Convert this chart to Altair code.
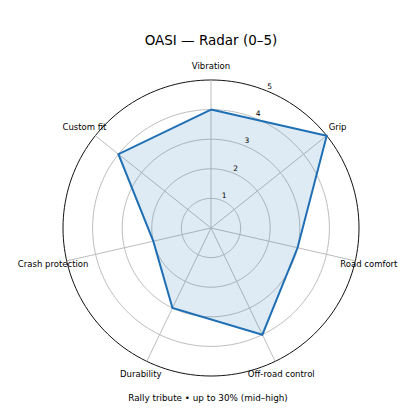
import altair as alt
import pandas as pd
import numpy as np

categories = ["Vibration", "Grip", "Road comfort", "Off-road control",
              "Durability", "Crash protection", "Custom fit"]
values = [4, 5, 3, 4, 3, 2, 4]
ring_levels = [1, 2, 3, 4, 5]
tick_labels = ["1", "2", "3", "4", "5"]
title_text = "OASI — Radar (0–5)"
subtitle_text = "Rally tribute • up to 30% (mid–high)"

N = len(categories)
UNIT = 29.6  # px per unit
W = H = 400
CX, CY = 203, 220

xdom = [-CX / UNIT, (W - CX) / UNIT]
ydom = [-(H - CY) / UNIT, CY / UNIT]
xs = alt.Scale(domain=xdom, nice=False, zero=False)
ys = alt.Scale(domain=ydom, nice=False, zero=False)
noax = None

cat_df = pd.DataFrame({"cat": categories, "value": values, "idx": list(range(N))})
poly_df = pd.concat([cat_df, cat_df.iloc[[0]].assign(idx=N)], ignore_index=True)

ring_rows = []
for r in ring_levels:
    for d in range(0, 361, 2):
        ring_rows.append({"r": r, "deg": d})
ring_df = pd.DataFrame(ring_rows)

tick_df = pd.DataFrame({"r": ring_levels, "label": tick_labels})

X = lambda f: alt.X(f, type="quantitative", scale=xs, axis=noax)
Y = lambda f: alt.Y(f, type="quantitative", scale=ys, axis=noax)

rings = alt.Chart(ring_df).transform_calculate(
    x="datum.r*sin(datum.deg*PI/180)",
    y="datum.r*cos(datum.deg*PI/180)",
).mark_line(strokeWidth=1, clip=False).encode(
    x=X("x:Q"), y=Y("y:Q"), detail="r:N", order="deg:Q",
    color=alt.condition("datum.r == 5", alt.value("#111111"), alt.value("#bdbdbd")),
)

spokes = alt.Chart(cat_df).transform_calculate(
    a="datum.idx*2*PI/%d" % N,
).transform_calculate(
    x0="0", y0="0",
    x1="5*sin(datum.a)", y1="5*cos(datum.a)",
).mark_rule(color="#bdbdbd", strokeWidth=1).encode(
    x=X("x0:Q"), y=Y("y0:Q"), x2="x1:Q", y2="y1:Q",
)

poly = alt.Chart(poly_df).transform_calculate(
    a="datum.idx*2*PI/%d" % N,
).transform_calculate(
    x="datum.value*sin(datum.a)", y="datum.value*cos(datum.a)",
).mark_line(color="#1f6fb4", strokeWidth=2, fill="#1f77b4", fillOpacity=0.15,
            strokeJoin="miter").encode(
    x=X("x:Q"), y=Y("y:Q"), order="idx:Q",
)

ticks = alt.Chart(tick_df).transform_calculate(
    x="(datum.r+0.17)*sin(22.5*PI/180)", y="(datum.r+0.17)*cos(22.5*PI/180)",
).mark_text(font="DejaVu Sans", fontSize=7.5, color="#000000",
            align="center", baseline="middle").encode(
    x=X("x:Q"), y=Y("y:Q"), text="label:N",
)

labels = alt.Chart(cat_df).transform_calculate(
    a="datum.idx*2*PI/%d" % N,
).transform_calculate(
    x="5.47*sin(datum.a)", y="5.47*cos(datum.a)",
).mark_text(font="DejaVu Sans", fontSize=8.5, color="#000000",
            align="center", baseline="middle").encode(
    x=X("x:Q"), y=Y("y:Q"), text="cat:N",
)

title = alt.Chart(pd.DataFrame({"t": [title_text]})).mark_text(
    font="DejaVu Sans", fontSize=13.5, color="#000000", align="center", baseline="middle"
).encode(x=alt.value(203), y=alt.value(33), text="t:N")

subtitle = alt.Chart(pd.DataFrame({"t": [subtitle_text]})).mark_text(
    font="DejaVu Sans", fontSize=8.8, color="#000000", align="center", baseline="middle"
).encode(x=alt.value(200), y=alt.value(390), text="t:N")

chart = alt.layer(rings, spokes, poly, ticks, labels, title, subtitle).properties(
    width=W, height=H, padding=0, autosize=alt.AutoSizeParams(type="none"),
).configure_view(stroke=None)

chart.save("out.html", embed_options={"renderer": "svg", "actions": False})
